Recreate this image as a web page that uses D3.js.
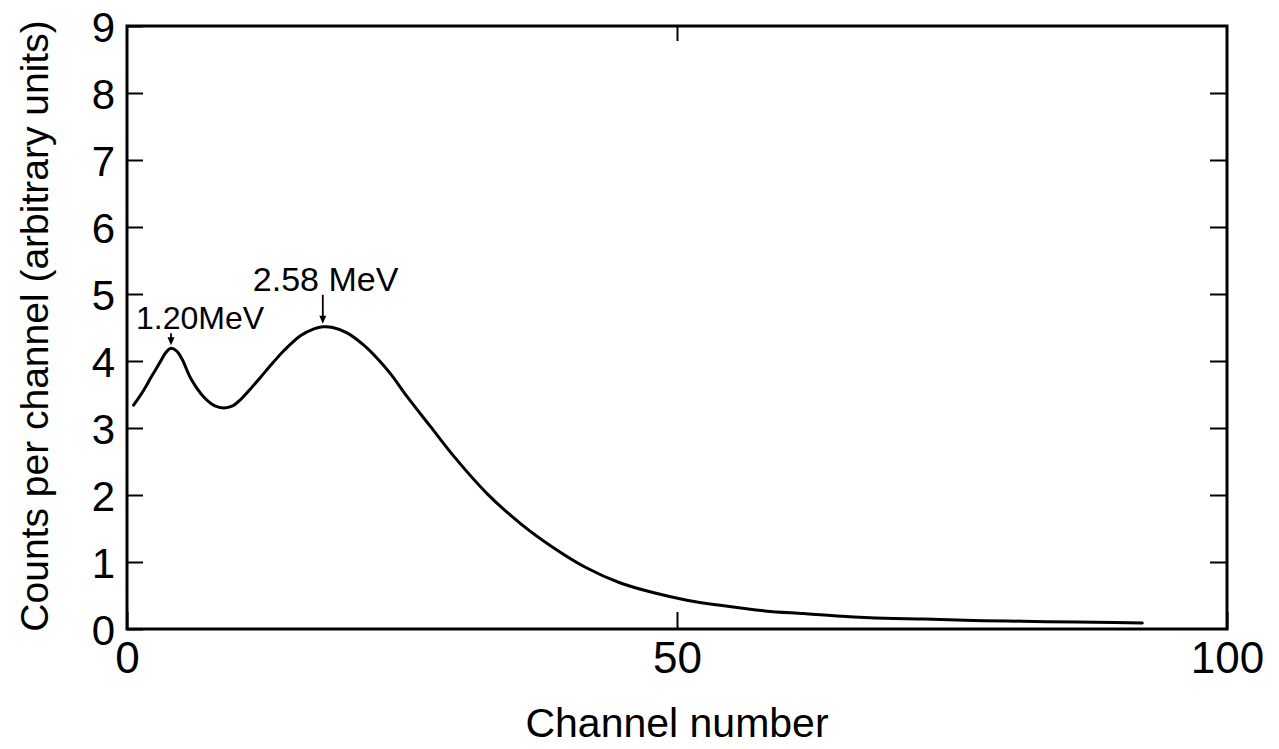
<!DOCTYPE html>
<html>
<head>
<meta charset="utf-8">
<script src="https://cdn.jsdelivr.net/npm/d3@7"></script>
<style>
  html, body { margin: 0; padding: 0; background: #fff; }
  svg { display: block; }
  text { font-family: "Liberation Sans", Arial, sans-serif; fill: #000; }
</style>
</head>
<body>
<svg id="chart" width="1279" height="749"></svg>
<script>
// Pulse-height spectrum: counts per channel vs channel number
const channels = [0.6, 1.5, 2.2, 3.0, 3.5, 4.0, 4.5, 5.0, 5.8, 7.0, 8.0, 8.8, 9.6, 10.3, 11.2,
  12.2, 13.3, 14.3, 15.8, 17.0, 17.8, 18.7, 20.0, 21.5, 22.8, 24.0, 25.5, 27.6, 29.7, 32.8,
  35.8, 38.8, 41.8, 44.8, 47.9, 50.9, 54.1, 58.0, 61.5, 65.0, 68.9, 72.5, 76.2, 80.0, 83.6,
  88.0, 92.3];
const counts = [3.34, 3.56, 3.76, 3.98, 4.12, 4.19, 4.15, 4.03, 3.74, 3.46, 3.33, 3.30, 3.33,
  3.42, 3.58, 3.77, 3.98, 4.16, 4.38, 4.48, 4.51, 4.50, 4.42, 4.24, 4.03, 3.80, 3.46, 3.02,
  2.58, 2.01, 1.57, 1.21, 0.91, 0.69, 0.54, 0.43, 0.35, 0.27, 0.23, 0.19, 0.16, 0.15, 0.13,
  0.12, 0.11, 0.10, 0.09];

// Peak markers
const peakChannels = [4.0, 17.8];
const peakCounts = [4.19, 4.51];
const peakLabels = ["1.20MeV", "2.58 MeV"];

// Tick values
const xTicks = [0, 50, 100];
const yTicks = [0, 1, 2, 3, 4, 5, 6, 7, 8, 9];

const xTitle = "Channel number";
const yTitle = "Counts per channel (arbitrary units)";

const svg = d3.select("#chart");
const plotLeft = 127, plotRight = 1227, plotTop = 26, plotBottom = 629;

const x = d3.scaleLinear().domain([0, 100]).range([plotLeft, plotRight]);
const y = d3.scaleLinear().domain([0, 9]).range([plotBottom, plotTop]);

// Inward ticks on all four sides
const styleAxis = g => {
  g.select(".domain").remove();
  g.selectAll(".tick line").attr("stroke", "#000").attr("stroke-width", 2);
};

svg.append("g").attr("transform", `translate(${plotLeft},0)`)
  .call(d3.axisLeft(y).tickValues(yTicks).tickSize(-16).tickPadding(12).tickFormat(d3.format("d")))
  .call(styleAxis)
  .call(g => g.selectAll(".tick text")
    .attr("font-size", 42).attr("font-family", "Liberation Sans, Arial, sans-serif")
    .attr("fill", "#000").attr("dy", "0.36em"));

svg.append("g").attr("transform", `translate(${plotRight},0)`)
  .call(d3.axisRight(y).tickValues(yTicks.slice(1, -1)).tickSize(-17).tickFormat(""))
  .call(styleAxis);

svg.append("g").attr("transform", `translate(0,${plotBottom})`)
  .call(d3.axisBottom(x).tickValues(xTicks).tickSize(-17).tickPadding(13).tickFormat(d3.format("d")))
  .call(styleAxis)
  .call(g => g.selectAll(".tick text")
    .attr("font-size", 44).attr("font-family", "Liberation Sans, Arial, sans-serif")
    .attr("fill", "#000"));

svg.append("g").attr("transform", `translate(0,${plotTop})`)
  .call(d3.axisTop(x).tickValues([50]).tickSize(-15).tickFormat(""))
  .call(styleAxis);

// Frame
svg.append("rect")
  .attr("x", plotLeft).attr("y", plotTop)
  .attr("width", plotRight - plotLeft).attr("height", plotBottom - plotTop)
  .attr("fill", "none").attr("stroke", "#000").attr("stroke-width", 3);

// Spectrum curve
const line = d3.line()
  .x((d, i) => x(channels[i]))
  .y(d => y(d))
  .curve(d3.curveCatmullRom.alpha(0.5));

svg.append("path")
  .datum(counts)
  .attr("d", line)
  .attr("fill", "none")
  .attr("stroke", "#000")
  .attr("stroke-width", 3)
  .attr("stroke-linejoin", "round")
  .attr("stroke-linecap", "round");

// Peak arrows and energy labels
const arrowLen = [12, 29];
const labelDx = [-35, -70];
const labelSize = [32, 34];
peakChannels.forEach((c, i) => {
  const px = x(c);
  const tip = y(peakCounts[i]) - 3;
  const tail = tip - arrowLen[i];
  svg.append("line")
    .attr("x1", px).attr("x2", px)
    .attr("y1", tail).attr("y2", tip - 5)
    .attr("stroke", "#000").attr("stroke-width", 1.8);
  svg.append("path")
    .attr("d", `M${px - 3.5},${tip - 8} L${px + 3.5},${tip - 8} L${px},${tip} Z`)
    .attr("fill", "#000");
  svg.append("text")
    .attr("x", px + labelDx[i])
    .attr("y", tail - 4)
    .attr("font-size", labelSize[i])
    .text(peakLabels[i]);
});

// Axis titles
svg.append("text")
  .attr("x", 677).attr("y", 737)
  .attr("text-anchor", "middle")
  .attr("font-size", 41)
  .text(xTitle);

svg.append("text")
  .attr("transform", "translate(48,326) rotate(-90)")
  .attr("text-anchor", "middle")
  .attr("font-size", 39)
  .text(yTitle);
</script>
</body>
</html>
